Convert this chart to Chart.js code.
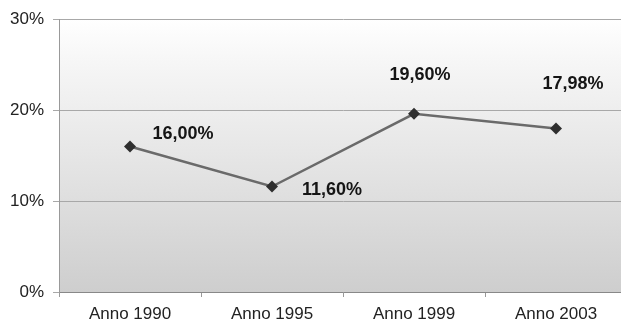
<!DOCTYPE html>
<html>
<head>
<meta charset="utf-8">
<script src="https://cdn.jsdelivr.net/npm/chart.js@4/dist/chart.umd.min.js"></script>
<style>
  html, body { margin: 0; padding: 0; background: #fff; overflow: hidden; }
  #wrap { width: 633px; height: 321px; }
</style>
</head>
<body>
<div id="wrap"><canvas id="c"></canvas></div>
<script>
// Years shown on the horizontal axis
const categories = ['Anno 1990', 'Anno 1995', 'Anno 1999', 'Anno 2003'];
// Percentage values for each year
const values = [16.00, 11.60, 19.60, 17.98];
// Value-axis tick values (percent)
const yTicks = [0, 10, 20, 30];
// Where each value label sits relative to its marker (px)
const labelOffsets = [[53, -12], [60, 4], [6, -39], [17, -44]];

const fmt = v => v.toFixed(2).replace('.', ',') + '%';

// Soft vertical gradient behind the plot area
const plotBackground = {
  id: 'plotBackground',
  beforeDraw(chart) {
    const { ctx, chartArea: a } = chart;
    const g = ctx.createLinearGradient(0, a.top, 0, a.bottom);
    g.addColorStop(0, '#ffffff');
    g.addColorStop(0.14, '#f7f7f7');
    g.addColorStop(0.5, '#e6e6e6');
    g.addColorStop(1, '#cecece');
    ctx.save();
    ctx.fillStyle = g;
    ctx.fillRect(a.left, a.top, a.right - a.left, a.bottom - a.top);
    ctx.restore();
  }
};

// Value labels next to the markers
const valueLabels = {
  id: 'valueLabels',
  afterDatasetsDraw(chart) {
    const { ctx } = chart;
    const meta = chart.getDatasetMeta(0);
    ctx.save();
    ctx.font = 'bold 18px "Liberation Sans", Arial, sans-serif';
    ctx.fillStyle = '#151515';
    ctx.textAlign = 'center';
    ctx.textBaseline = 'middle';
    meta.data.forEach((pt, i) => {
      const [dx, dy] = labelOffsets[i];
      ctx.fillText(fmt(values[i]), pt.x + dx, pt.y + dy);
    });
    ctx.restore();
  }
};

new Chart(document.getElementById('c'), {
  type: 'line',
  data: {
    labels: categories,
    datasets: [{
      data: values,
      borderColor: '#6a6a6a',
      borderWidth: 2.5,
      pointStyle: 'rectRot',
      pointRadius: 6,
      pointBackgroundColor: '#2e2e2e',
      pointBorderColor: '#2e2e2e',
      pointBorderWidth: 0,
      tension: 0
    }]
  },
  options: {
    responsive: true,
    maintainAspectRatio: false,
    animation: false,
    layout: { padding: { top: 17, right: 0, left: 0, bottom: 0 } },
    plugins: { legend: { display: false }, tooltip: { enabled: false } },
    scales: {
      x: {
        offset: true,
        grid: {
          display: true,
          offset: true,
          drawOnChartArea: false,
          drawTicks: true,
          tickLength: 5,
          color: '#999'
        },
        border: { display: true, color: '#888', width: 1 },
        ticks: {
          color: '#222',
          font: { family: '"Liberation Sans", Arial, sans-serif', size: 17 },
          padding: 7,
          maxRotation: 0
        },
        afterFit(s) { s.height = 29; }
      },
      y: {
        min: 0,
        max: 30,
        afterBuildTicks(s) { s.ticks = yTicks.map(v => ({ value: v })); },
        grid: {
          color: '#a8a8a8',
          lineWidth: 1,
          drawTicks: true,
          tickLength: 6
        },
        border: { display: true, color: '#999', width: 1 },
        ticks: {
          color: '#222',
          font: { family: '"Liberation Sans", Arial, sans-serif', size: 17 },
          padding: 9,
          callback: v => v + '%'
        },
        afterFit(s) { s.width = 59; }
      }
    }
  },
  plugins: [plotBackground, valueLabels]
});
</script>
</body>
</html>
